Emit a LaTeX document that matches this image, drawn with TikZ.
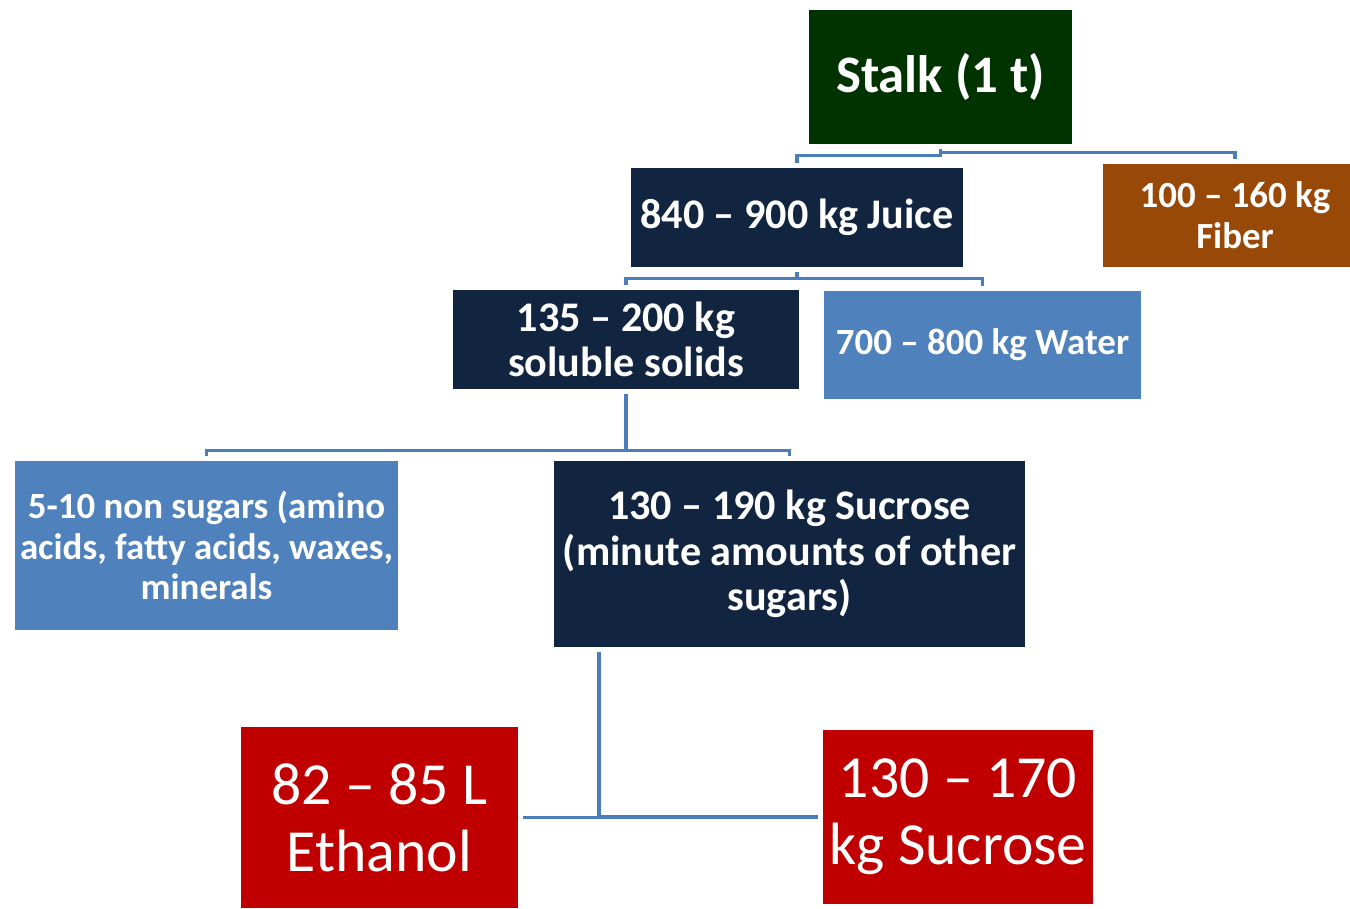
\documentclass[tikz,border=0pt]{standalone}
\usepackage{fontspec}
\setmainfont{Carlito}
\definecolor{stalkgreen}{RGB}{0,51,0}
\definecolor{darknavy}{RGB}{18,37,64}
\definecolor{fiberbrown}{RGB}{152,72,7}
\definecolor{paleblue}{RGB}{79,129,189}
\definecolor{deepred}{RGB}{192,0,0}
\definecolor{linkblue}{RGB}{74,126,187}
\begin{document}
\begin{tikzpicture}[x=0.02cm,y=-0.02cm,
  block/.style={inner sep=0pt,align=center,text=white},
  navyblock/.style={block,fill=darknavy,font=\bfseries\fontsize{24}{26}\selectfont},
  paleblock/.style={block,fill=paleblue,font=\bfseries\fontsize{21}{23.2}\selectfont},
  redblock/.style={block,fill=deepred,font=\fontsize{34}{38}\selectfont},
  link/.style={draw=linkblue,line width=2pt,shorten <=0.1cm,shorten >=0.1cm}]
  % Sugarcane stalk mass balance
  \useasboundingbox (0,0) rectangle (1350,909);
  \clip (0,0) rectangle (1350,909);
  \node[block,fill=stalkgreen,font=\bfseries\fontsize{30}{34}\selectfont,
    minimum width=5.26cm,minimum height=2.68cm] (stalk) at (940.5,77) {Stalk (1 t)};
  \node[navyblock,minimum width=6.64cm,minimum height=1.98cm] (juice) at (797,217.5) {840 – 900 kg Juice};
  \node[block,fill=fiberbrown,font=\bfseries\fontsize{21}{23.2}\selectfont,
    minimum width=5.28cm,minimum height=2.06cm] (fiber) at (1235,215.5) {100 – 160 kg\\Fiber};
  \node[navyblock,minimum width=6.92cm,minimum height=1.98cm] (solids) at (626,339.5) {135 – 200 kg\\soluble solids};
  \node[paleblock,minimum width=6.34cm,minimum height=2.16cm] (water) at (982.5,345) {700 – 800 kg Water};
  \node[paleblock,minimum width=7.66cm,minimum height=3.38cm] (nonsugar) at (206.5,545.5)
    {5-10 non sugars (amino\\acids, fatty acids, waxes,\\minerals};
  \node[navyblock,minimum width=9.42cm,minimum height=3.72cm] (sucrose) at (789.5,554)
    {130 – 190 kg Sucrose\\(minute amounts of other\\sugars)};
  \node[redblock,minimum width=5.54cm,minimum height=3.62cm] (ethanol) at (379.5,817.5) {82 – 85 L\\Ethanol};
  \node[redblock,minimum width=5.40cm,minimum height=3.48cm] (sugar) at (958,817) {130 – 170\\kg Sucrose};
  \draw[link] (stalk.south) -- ++(0,11) -| (juice.north);
  \draw[link] (stalk.south) -- ++(0,8) -| (fiber.north);
  \draw[link] (juice.south) -- ++(0,11) -| (solids.north);
  \draw[link] (juice.south) -- ++(0,11) -| (water.north);
  \draw[link] (solids.south) -- ++(0,61) -| (nonsugar.north);
  \draw[link] (solids.south) -- ++(0,61) -| (sucrose.north);
  \draw[link] ([xshift=-3.81cm]sucrose.south) |- (ethanol.east);
  \draw[link] ([xshift=-3.81cm]sucrose.south) |- (sugar.west);
\end{tikzpicture}
\end{document}
